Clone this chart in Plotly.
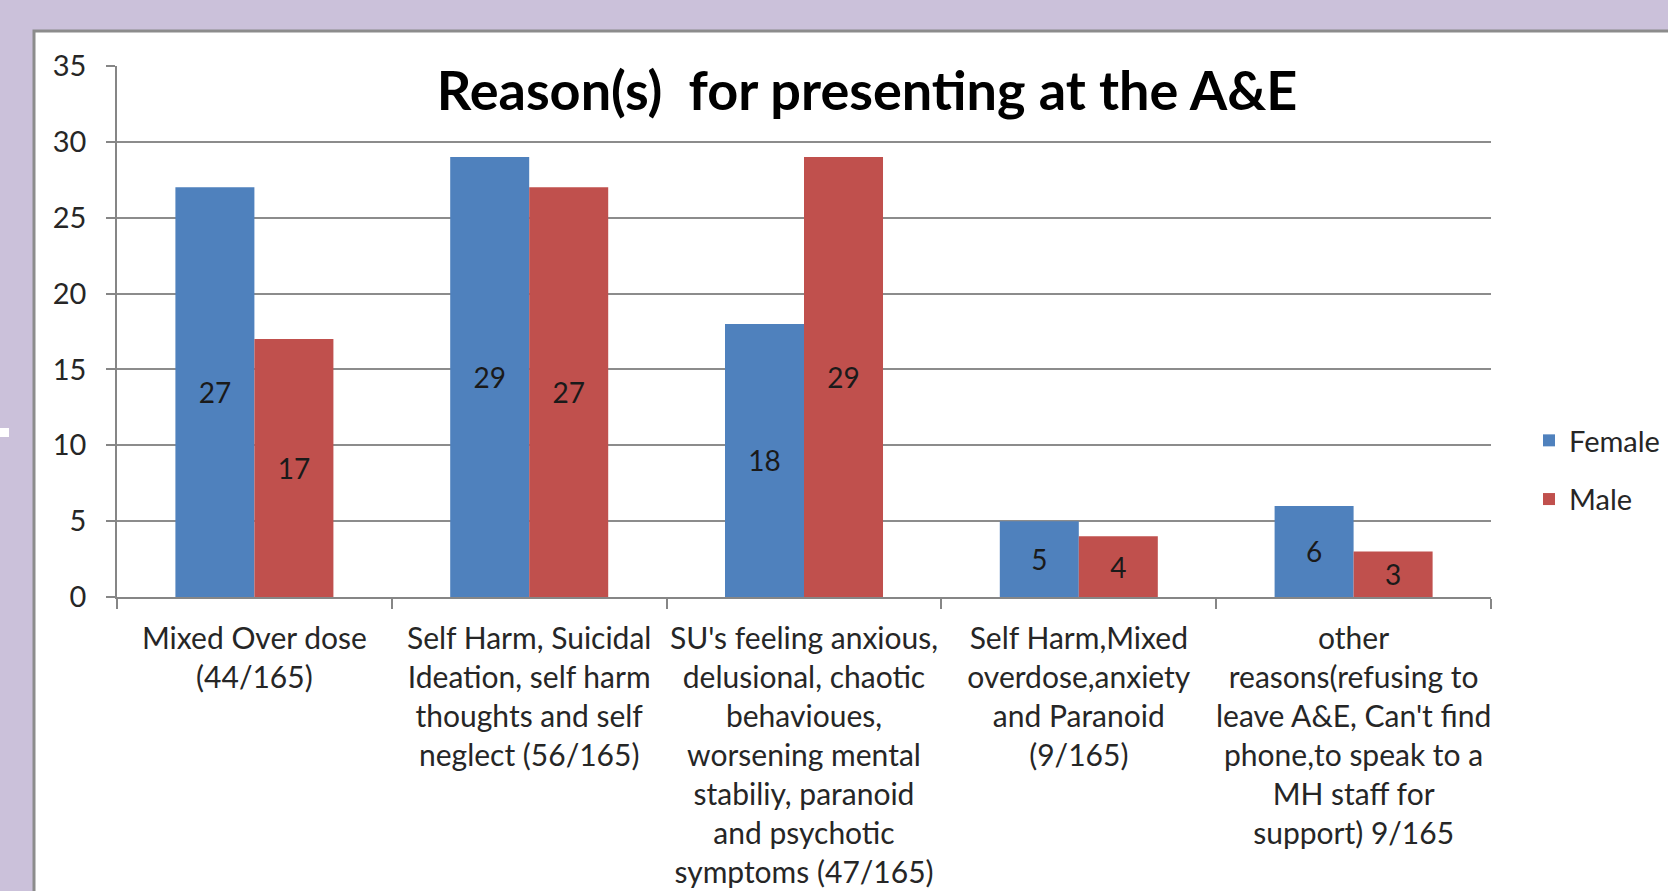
import plotly.graph_objects as go

categories = [
    "Mixed Over dose<br>(44/165)",
    "Self Harm, Suicidal<br>Ideation, self harm<br>thoughts and self<br>neglect (56/165)",
    "SU's feeling anxious,<br>delusional, chaotic<br>behavioues,<br>worsening mental<br>stabiliy, paranoid<br>and psychotic<br>symptoms (47/165)",
    "Self Harm,Mixed<br>overdose,anxiety<br>and Paranoid<br>(9/165)",
    "other<br>reasons(refusing to<br>leave A&E, Can't find<br>phone,to speak to a<br>MH staff for<br>support) 9/165",
]
female = [27, 29, 18, 5, 6]
male = [17, 27, 29, 4, 3]
y_ticks = [0, 5, 10, 15, 20, 25, 30, 35]
title_text = "Reason(s)&nbsp; for presenting at the A&E"

W, H = 1668, 891
L, R, T, B = 117, 1491, 66, 597
FONT = "Lato, Calibri, sans-serif"
TXT = "#262626"
BG = "#CBC1DA"

def px(x):
    return (x - L) / (R - L)

def py(y):
    return (B - y) / (B - T)

fig = go.Figure()
fig.add_trace(go.Bar(
    x=categories, y=female, name="Female",
    marker=dict(color="#4F81BD", line=dict(width=0)),
    text=[str(v) for v in female], textposition="inside",
    insidetextanchor="middle", textangle=0,
    textfont=dict(family=FONT, size=28, color="#1a1a1a"),
    legendgroup="f",
))
fig.add_trace(go.Bar(
    x=categories, y=male, name="Male",
    marker=dict(color="#C0504D", line=dict(width=0)),
    text=[str(v) for v in male], textposition="inside",
    insidetextanchor="middle", textangle=0,
    textfont=dict(family=FONT, size=28, color="#1a1a1a"),
    legendgroup="m",
))

fig.update_layout(
    width=W, height=H,
    margin=dict(l=L, r=W - R, t=T, b=H - B, autoexpand=False),
    paper_bgcolor=BG,
    plot_bgcolor="white",
    barmode="group",
    bargap=0.425,
    bargroupgap=0,
    font=dict(family=FONT, size=29, color=TXT),
    title=dict(
        text="<b>" + title_text + "</b>",
        font=dict(family=FONT, size=54, color="black"),
        x=px(867), xref="paper", xanchor="center",
        y=1 - 91 / H, yref="container", yanchor="middle",
    ),
    legend=dict(
        x=px(1529), xanchor="left",
        y=py(470), yanchor="middle",
        font=dict(family=FONT, size=29, color=TXT),
        bgcolor="rgba(0,0,0,0)",
        tracegroupgap=18,
        itemwidth=30,
    ),
    xaxis=dict(
        showline=True, linecolor="#868686", linewidth=1.5,
        ticks="outside", tickson="boundaries", ticklen=10,
        tickcolor="#868686", tickwidth=1.5,
        showgrid=False,
        tickfont=dict(family=FONT, size=30, color=TXT),
        tickangle=0,
        ticklabelstandoff=14,
        automargin=False,
    ),
    yaxis=dict(
        range=[0, 35], tickvals=y_ticks,
        showline=True, linecolor="#868686", linewidth=1.5,
        ticks="outside", ticklen=9, tickcolor="#868686", tickwidth=1.5,
        showgrid=True, gridcolor="#8C8C8C", gridwidth=1.5,
        zeroline=False,
        tickfont=dict(family=FONT, size=29, color=TXT),
        ticklabelstandoff=14,
        automargin=False,
    ),
    shapes=[
        dict(type="rect", xref="paper", yref="paper",
             x0=px(34), x1=px(1720), y0=py(960), y1=py(31),
             fillcolor="white", line=dict(color="#8C8C8C", width=3),
             layer="below"),
        dict(type="rect", xref="paper", yref="paper",
             x0=px(0), x1=px(9), y0=py(437), y1=py(428),
             fillcolor="white", line=dict(width=0), layer="below"),
    ],
)

fig.write_html(
    "out.html",
    config={"displayModeBar": False},
    post_script="document.body.style.margin='0';document.body.style.overflow='hidden';document.body.style.background='" + BG + "';",
)
